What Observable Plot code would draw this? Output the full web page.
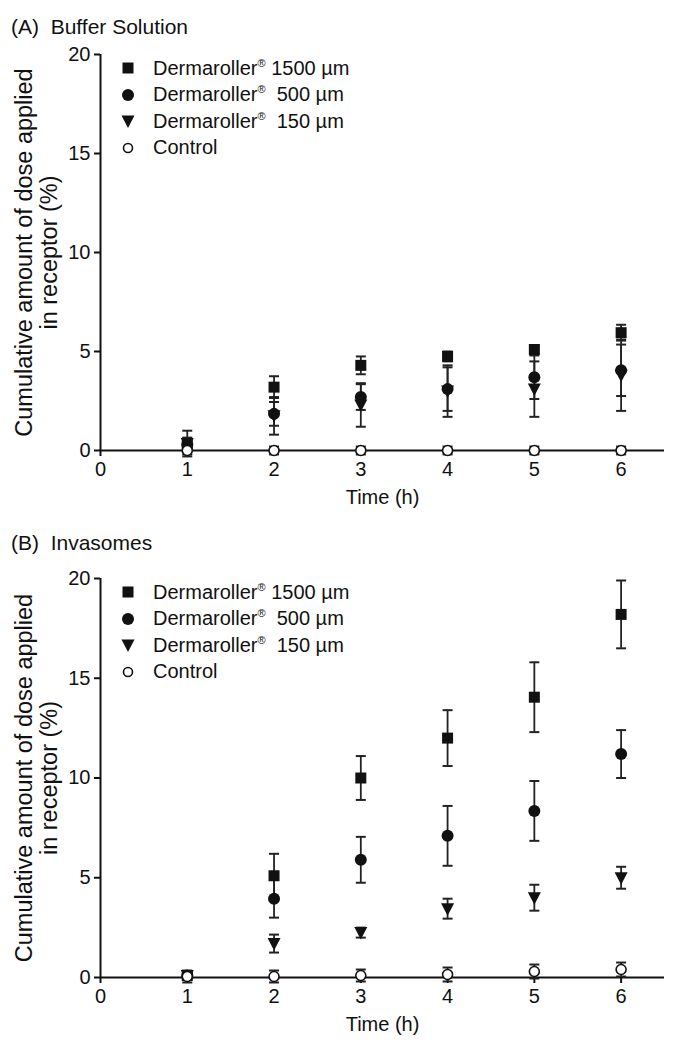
<!DOCTYPE html>
<html><head><meta charset="utf-8">
<script src="https://cdn.jsdelivr.net/npm/d3@7"></script>
<script src="https://cdn.jsdelivr.net/npm/@observablehq/plot@0.6"></script>
<style>
body{margin:0;background:#fff;font-family:"Liberation Sans",Arial,sans-serif;}
#root{position:relative;width:676px;height:1050px;overflow:hidden;background:#fff}
.title{position:absolute;left:11px;font-size:21px;color:#111;white-space:pre;line-height:22px}
.legend{position:absolute;left:117px;font-size:20px;color:#111}
.legend .row{height:26.5px;display:flex;align-items:center;white-space:pre}
.legend svg{width:22px;height:20px;margin-right:14px;flex:none}
.legend sup{font-size:11px;vertical-align:8px;line-height:0}
.plot{position:absolute;left:0}
</style></head><body><div id="root"></div>
<script>
// ---- data ----
const times = [1, 2, 3, 4, 5, 6];
const xTicks = [0, 1, 2, 3, 4, 5, 6];
const yTicks = [0, 5, 10, 15, 20];
const seriesKeys = ["d1500", "d500", "d150", "control"];
const seriesNames = ["Dermaroller", "Dermaroller", "Dermaroller", "Control"];
const seriesSizes = [" 1500 µm", "  500 µm", "  150 µm", ""];
const panelTitles = ["(A)  Buffer Solution", "(B)  Invasomes"];
const yLabel = "Cumulative amount of dose applied\nin receptor (%)";
const xLabel = "Time (h)";

// (A) Buffer solution: means and SDs
const bufferD1500Mean = [0.35, 3.2, 4.3, 4.75, 5.1, 5.95];
const bufferD1500Sd   = [0.3, 0.55, 0.45, 0.25, 0.2, 0.4];
const bufferD500Mean  = [0.3, 1.85, 2.7, 3.1, 3.7, 4.05];
const bufferD500Sd    = [0.3, 0.6, 0.65, 1.1, 1.1, 1.3];
const bufferD150Mean  = [0.35, 1.75, 2.3, 3.0, 3.1, 3.8];
const bufferD150Sd    = [0.65, 0.95, 1.1, 1.3, 1.4, 1.8];
const bufferCtrlMean  = [0.0, 0.0, 0.0, 0.0, 0.0, 0.0];
const bufferCtrlSd    = [0.2, 0.2, 0.2, 0.2, 0.2, 0.2];

// (B) Invasomes: means and SDs
const invD1500Mean = [0.1, 5.1, 10.0, 12.0, 14.05, 18.2];
const invD1500Sd   = [0.1, 1.1, 1.1, 1.4, 1.75, 1.7];
const invD500Mean  = [0.1, 3.95, 5.9, 7.1, 8.35, 11.2];
const invD500Sd    = [0.1, 0.95, 1.15, 1.5, 1.5, 1.2];
const invD150Mean  = [0.1, 1.7, 2.25, 3.45, 4.0, 5.0];
const invD150Sd    = [0.1, 0.45, 0.25, 0.5, 0.65, 0.55];
const invCtrlMean  = [0.05, 0.05, 0.1, 0.15, 0.3, 0.4];
const invCtrlSd    = [0.3, 0.3, 0.3, 0.35, 0.35, 0.35];

// ---- symbols ----
const INK = "#111";
const symSquare = {draw(c){ c.rect(-5.5, -5.5, 11, 11); }};
const symCircle = {draw(c){ c.moveTo(6, 0); c.arc(0, 0, 6, 0, 2*Math.PI); }};
const symTri = {draw(c){ c.moveTo(-6.5, -5.5); c.lineTo(6.5, -5.5); c.lineTo(0, 7); c.closePath(); }};
const symOpen = {draw(c){ c.moveTo(5, 0); c.arc(0, 0, 5, 0, 2*Math.PI); }};
const symCap = {draw(c){ c.moveTo(-5, 0); c.lineTo(5, 0); }};
const symbols = [symSquare, symCircle, symTri, symOpen];

function build(means, sds) {
  const rows = [];
  seriesKeys.forEach((k, si) => {
    times.forEach((t, i) => rows.push({series: k, si, t, mean: means[si][i], sd: sds[si][i]}));
  });
  return rows;
}

function chart(rows, height) {
  const marks = [
    Plot.ruleY([0], {stroke: INK, strokeWidth: 2}),
    Plot.ruleX([0], {y1: 0, y2: 20, stroke: INK, strokeWidth: 2}),
    Plot.axisY({ticks: yTicks, tickSize: 6, tickPadding: 4, label: null, stroke: INK, strokeWidth: 2, fontSize: 20}),
    Plot.axisX({ticks: xTicks, tickFormat: d => String(d), tickSize: 6, tickPadding: 5, fontSize: 20, label: null, stroke: INK, strokeWidth: 2}),
    Plot.text([xLabel], {frameAnchor: "bottom", textAnchor: "middle", lineAnchor: "middle", dy: 47, fontSize: 20, fill: INK}),
    Plot.text([yLabel], {frameAnchor: "left", textAnchor: "middle", lineAnchor: "middle", rotate: -90, dx: -64, lineHeight: 1.06, fontSize: 23.5, fill: INK}),
    Plot.ruleX(rows, {x: "t", y1: d => d.mean - d.sd, y2: d => d.mean + d.sd, stroke: "#222", strokeWidth: 1.8}),
    Plot.dot(rows, {x: "t", y: d => d.mean + d.sd, symbol: () => symCap, stroke: "#222", strokeWidth: 2, r: 1}),
    Plot.dot(rows, {x: "t", y: d => d.mean - d.sd, symbol: () => symCap, stroke: "#222", strokeWidth: 2, r: 1})
  ];
  [0, 1, 2].forEach(si => {
    marks.push(Plot.dot(rows.filter(d => d.si === si), {x: "t", y: "mean", symbol: () => symbols[si], fill: INK, stroke: "none", r: 1}));
  });
  marks.push(Plot.dot(rows.filter(d => d.si === 3), {x: "t", y: "mean", symbol: () => symOpen, fill: "#fff", stroke: INK, strokeWidth: 1.6, r: 1}));
  return Plot.plot({
    width: 676, height,
    marginTop: 20, marginBottom: 64, marginLeft: 100, marginRight: 12,
    x: {domain: [0, 6.5]},
    y: {domain: [0, 20]},
    symbol: {type: "identity"},
    style: "font-size:20px;font-family:'Liberation Sans',Arial,sans-serif;color:#111;background:#fff;overflow:visible",
    marks
  });
}

function legendSvg(si) {
  const shapes = [
    `<rect x="5.5" y="4.5" width="11" height="11" fill="${INK}"/>`,
    `<circle cx="11" cy="10" r="6" fill="${INK}"/>`,
    `<path d="M4.5,4.5L17.5,4.5L11,17Z" fill="${INK}"/>`,
    `<circle cx="11" cy="10" r="4.5" fill="#fff" stroke="${INK}" stroke-width="1.6"/>`
  ];
  return `<svg viewBox="0 0 22 20">${shapes[si]}</svg>`;
}

function addPanel(root, idx, titleTop, plotTop, plotHeight, legendTop, means, sds) {
  const title = document.createElement("div");
  title.className = "title";
  title.style.top = titleTop + "px";
  title.textContent = panelTitles[idx];
  const wrap = document.createElement("div");
  wrap.className = "plot";
  wrap.style.top = plotTop + "px";
  wrap.appendChild(chart(build(means, sds), plotHeight));
  const leg = document.createElement("div");
  leg.className = "legend";
  leg.style.top = legendTop + "px";
  leg.innerHTML = seriesKeys.map((k, si) =>
    `<div class="row">${legendSvg(si)}<span>${seriesNames[si]}${si < 3 ? "<sup>®</sup>" : ""}${seriesSizes[si]}</span></div>`).join("");
  root.appendChild(wrap);
  root.appendChild(title);
  root.appendChild(leg);
}

const root = document.getElementById("root");
addPanel(root, 0, 16, 34, 480, 55,
  [bufferD1500Mean, bufferD500Mean, bufferD150Mean, bufferCtrlMean],
  [bufferD1500Sd, bufferD500Sd, bufferD150Sd, bufferCtrlSd]);
addPanel(root, 1, 532, 558, 483, 579,
  [invD1500Mean, invD500Mean, invD150Mean, invCtrlMean],
  [invD1500Sd, invD500Sd, invD150Sd, invCtrlSd]);
</script>
</body></html>
